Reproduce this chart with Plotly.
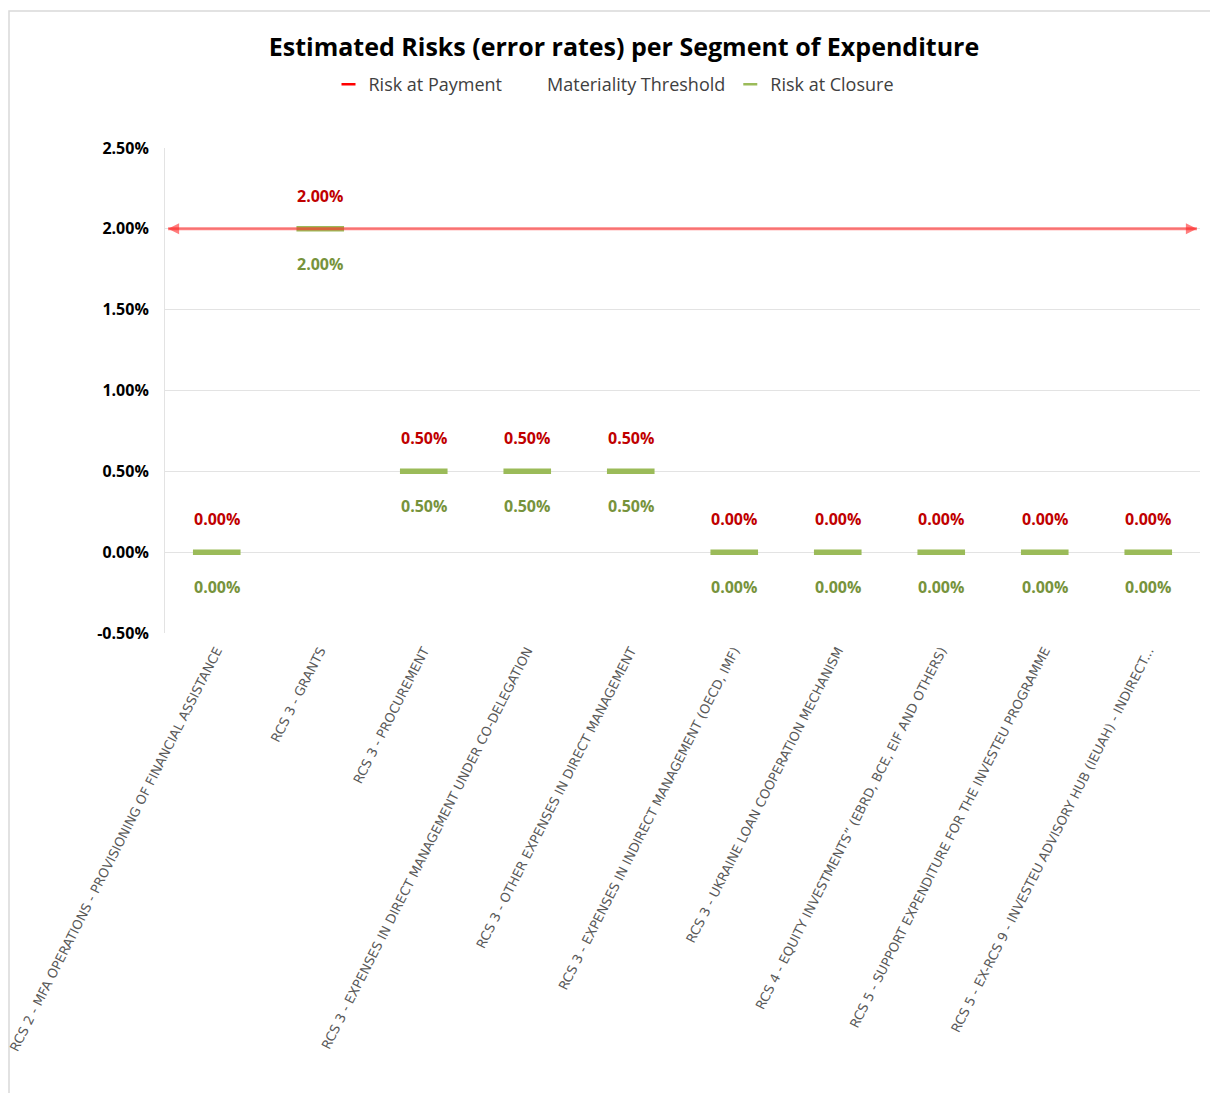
import plotly.graph_objects as go

categories = [
    "RCS 2 - MFA OPERATIONS - PROVISIONING OF FINANCIAL ASSISTANCE",
    "RCS 3 - GRANTS",
    "RCS 3 - PROCUREMENT",
    "RCS 3 - EXPENSES IN DIRECT MANAGEMENT UNDER CO-DELEGATION",
    "RCS 3 - OTHER EXPENSES IN DIRECT MANAGEMENT",
    "RCS 3 - EXPENSES IN INDIRECT MANAGEMENT (OECD, IMF)",
    "RCS 3 - UKRAINE LOAN COOPERATION MECHANISM",
    "RCS 4 - EQUITY INVESTMENTS\u201d (EBRD, BCE, EIF AND OTHERS)",
    "RCS 5 - SUPPORT EXPENDITURE FOR THE INVESTEU PROGRAMME",
    "RCS 5 - EX-RCS 9 - INVESTEU ADVISORY HUB (IEUAH) - INDIRECT...",
]
risk_at_payment = [0.0, 0.02, 0.005, 0.005, 0.005, 0.0, 0.0, 0.0, 0.0, 0.0]
risk_at_closure = [0.0, 0.02, 0.005, 0.005, 0.005, 0.0, 0.0, 0.0, 0.0, 0.0]
materiality_threshold = 0.02
y_ticks = [-0.005, 0.0, 0.005, 0.01, 0.015, 0.02, 0.025]
y_ticktext = [f"<b>{v*100:.2f}%</b>" for v in y_ticks]

RED = "#FF0000"
GREEN = "#9BBB59"
RED_TXT = "#C00000"
GREEN_TXT = "#77933C"
FONT = "Open Sans"

W, H = 1210, 1093
ML, MR, MT, MB = 165, 10, 148, 460
PW = W - ML - MR
PH = H - MT - MB

fig = go.Figure()

# data traces (legend handled by small dummy entries below)
fig.add_trace(go.Scatter(
    x=categories, y=risk_at_payment, name="Risk at Payment", mode="markers",
    showlegend=False,
    marker=dict(symbol="line-ew", size=32, color=RED, line=dict(color=RED, width=4)),
    hoverinfo="skip",
))
fig.add_trace(go.Scatter(
    x=categories, y=risk_at_closure, name="Risk at Closure", mode="markers",
    showlegend=False,
    marker=dict(symbol="line-ew", size=34, color=GREEN, line=dict(color=GREEN, width=5.5)),
    hoverinfo="skip",
))
# legend entries
fig.add_trace(go.Scatter(
    x=[None], y=[None], name="Risk at Payment", mode="markers",
    marker=dict(symbol="line-ew", size=10, color=RED, line=dict(color=RED, width=2.5)),
))
fig.add_trace(go.Scatter(
    x=[None], y=[None], name="Materiality Threshold", mode="markers",
    marker=dict(size=1, color="rgba(0,0,0,0)"),
))
fig.add_trace(go.Scatter(
    x=[None], y=[None], name="Risk at Closure", mode="markers",
    marker=dict(symbol="line-ew", size=10, color=GREEN, line=dict(color=GREEN, width=2.5)),
))
# materiality threshold line with arrows, on a hidden overlay axis spanning the plot
fig.add_trace(go.Scatter(
    x=[0.003, 0.997], y=[materiality_threshold, materiality_threshold],
    xaxis="x2", mode="lines+markers", showlegend=False, hoverinfo="skip",
    line=dict(color="rgba(255,40,40,0.6)", width=3),
    marker=dict(symbol=["arrow-left", "arrow-right"], size=11,
                color="rgba(255,40,40,0.6)", line=dict(width=0)),
))

annotations = []
for c, p, q in zip(categories, risk_at_payment, risk_at_closure):
    annotations.append(dict(x=c, y=p, xref="x", yref="y", text=f"<b>{p*100:.2f}%</b>",
                            showarrow=False, yshift=33,
                            font=dict(family=FONT, size=16, color=RED_TXT)))
    annotations.append(dict(x=c, y=q, xref="x", yref="y", text=f"<b>{q*100:.2f}%</b>",
                            showarrow=False, yshift=-35,
                            font=dict(family=FONT, size=16, color=GREEN_TXT)))

fig.update_layout(
    width=W, height=H,
    margin=dict(l=ML, r=MR, t=MT, b=MB, autoexpand=False),
    paper_bgcolor="white", plot_bgcolor="white",
    font=dict(family=FONT, color="#404040"),
    title=dict(text="<b>Estimated Risks (error rates) per Segment of Expenditure</b>",
               x=624 / W, xanchor="center", y=1 - 47 / H, yanchor="middle",
               font=dict(family=FONT, size=25, color="#000000")),
    legend=dict(orientation="h", x=(614 - ML) / PW, xanchor="center",
                y=1 + (MT - 66) / PH, yanchor="top",
                font=dict(family=FONT, size=18, color="#404040"),
                itemwidth=30, bgcolor="rgba(0,0,0,0)"),
    showlegend=True,
    xaxis=dict(type="category", categoryorder="array", categoryarray=categories,
               range=[-0.5, len(categories) - 0.5],
               tickangle=-63, tickfont=dict(family="DejaVu Sans", size=13, color="#595959"),
               showgrid=False, showline=False, zeroline=False,
               ticks="outside", ticklen=4, tickcolor="white",
               automargin=False),
    xaxis2=dict(overlaying="x", range=[0, 1], visible=False),
    yaxis=dict(range=[-0.005, 0.025], tickvals=y_ticks, ticktext=y_ticktext,
               tickfont=dict(family=FONT, size=16, color="#000000"),
               showgrid=True, gridcolor="#E3E3E3", gridwidth=1,
               zeroline=False, showline=True, linecolor="#E3E3E3",
               ticks="outside", ticklen=12, tickcolor="white",
               automargin=False),
    annotations=annotations,
    shapes=[dict(type="rect", xref="paper", yref="paper",
                 x0=(9 - ML) / PW, x1=(W + 5 - ML) / PW,
                 y0=-1.2, y1=1 + (MT - 11) / PH,
                 line=dict(color="#D9D9D9", width=1.5), layer="below")],
)

fig.write_html("out.html")
